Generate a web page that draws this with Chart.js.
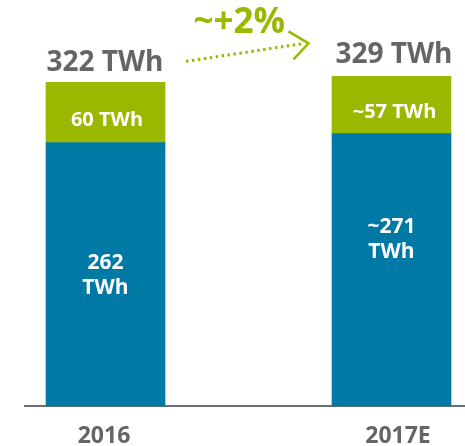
<!DOCTYPE html>
<html>
<head>
<meta charset="utf-8">
<script src="https://cdn.jsdelivr.net/npm/chart.js@4.4.1/dist/chart.umd.min.js"></script>
<style>
  html, body { margin: 0; padding: 0; background: #fff; }
  #wrap { width: 465px; height: 446px; }
</style>
</head>
<body>
<div id="wrap"><canvas id="energyChart" width="465" height="446"></canvas></div>
<script>
// Data
const years = ['2016', '2017E'];
const baseValues = [262, 271];      // blue part
const topValues = [60, 57];         // green part
const totalLabels = ['322 TWh', '329 TWh'];
const baseLabels = [['262', 'TWh'], ['~271', 'TWh']];
const topLabels = ['60 TWh', '~57 TWh'];
const growthLabel = '~+2%';

const GREEN = '#9cb700';
const BLUE = '#0079a5';
const GREY = '#646569';
const FONT = '"Open Sans", "DejaVu Sans", sans-serif';

// Texts, axis line and growth arrow
const labelPlugin = {
    id: 'barTexts',
    beforeDatasetsDraw: (chart) => {
        const { ctx } = chart;
        const y0 = chart.scales.y.getPixelForValue(0);
        ctx.save();
        ctx.strokeStyle = '#6d6e71';
        ctx.lineWidth = 2;
        ctx.beginPath();
        ctx.moveTo(24, y0);
        ctx.lineTo(chart.width, y0);
        ctx.stroke();
        ctx.restore();
    },
    afterDatasetsDraw: (chart) => {
        const { ctx } = chart;
        const baseMeta = chart.getDatasetMeta(0);
        const topMeta = chart.getDatasetMeta(1);
        const y0 = chart.scales.y.getPixelForValue(0);
        ctx.save();
        ctx.textAlign = 'center';
        ctx.textBaseline = 'alphabetic';

        const blueShift = [0, -32];
        years.forEach((year, i) => {
            const b = baseMeta.data[i];
            const t = topMeta.data[i];

            // total above bar
            ctx.fillStyle = GREY;
            ctx.font = 'bold 28px ' + FONT;
            ctx.fillText(totalLabels[i], t.x + (i ? 2.5 : -0.5), t.y - 11 - (i ? 2 : 0));

            // green segment label
            ctx.fillStyle = '#fff';
            ctx.font = 'bold 20px ' + FONT;
            ctx.fillText(topLabels[i], t.x + (i ? 3 : 1.5), (t.y + t.base) / 2 + 13);

            // blue segment label (two lines)
            ctx.font = 'bold 21px ' + FONT;
            const mid = (b.y + b.base) / 2 + blueShift[i];
            ctx.fillText(baseLabels[i][0], b.x, mid - 5);
            ctx.fillText(baseLabels[i][1], b.x, mid + 20);

            // category label
            ctx.fillStyle = GREY;
            ctx.font = 'bold 23px ' + FONT;
            ctx.fillText(year, b.x + (i ? 6.5 : -1.5), y0 + 37);
        });

        // growth arrow between the two totals
        const t1 = topMeta.data[0], t2 = topMeta.data[1];
        const sx = t1.x + 80.5, sy = t1.y - 21;
        const ex = t2.x - 87, ey = t2.y - 33;
        ctx.strokeStyle = GREEN;
        ctx.lineWidth = 3;
        ctx.setLineDash([2.5, 3.5]);
        ctx.beginPath();
        ctx.moveTo(sx, sy);
        ctx.lineTo(ex, ey);
        ctx.stroke();
        ctx.setLineDash([]);
        ctx.lineWidth = 2.5;
        ctx.beginPath();
        ctx.moveTo(ex - 16, ey - 12);
        ctx.lineTo(ex + 4, ey);
        ctx.lineTo(ex - 11, ey + 16);
        ctx.stroke();

        ctx.fillStyle = GREEN;
        ctx.font = 'bold 35px ' + FONT;
        ctx.fillText(growthLabel, (sx + ex) / 2 - 6, ey - 10);
        ctx.restore();
    }
};

new Chart(document.getElementById('energyChart'), {
    type: 'bar',
    plugins: [labelPlugin],
    data: {
        labels: years,
        datasets: [
            {
                label: 'Base',
                data: baseValues,
                backgroundColor: BLUE,
                barThickness: 119,
                clip: false
            },
            {
                label: 'Top',
                data: topValues,
                backgroundColor: GREEN,
                barThickness: 119,
                clip: false
            }
        ]
    },
    options: {
        responsive: false,
        animation: false,
        layout: { padding: { left: 105.5, right: 73.5, top: 4, bottom: 40 } },
        plugins: {
            legend: { display: false },
            tooltip: { enabled: false }
        },
        scales: {
            x: { display: false, stacked: true, offset: false },
            y: { display: false, stacked: true, min: 0, max: 400 }
        }
    }
});
</script>
</body>
</html>
